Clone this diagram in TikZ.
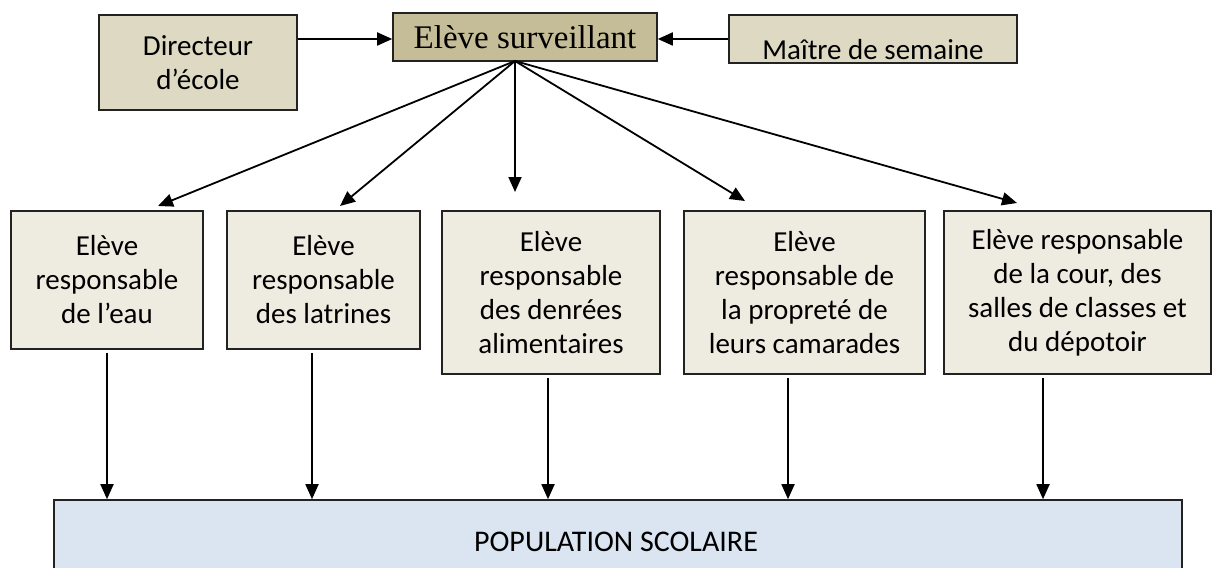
\documentclass[tikz,border=0pt]{standalone}
\usepackage{fontspec}
\setmainfont{Carlito}
\newfontfamily\survfont{Liberation Serif}
\usetikzlibrary{arrows.meta,calc}
\definecolor{tanA}{HTML}{DDD9C3}
\definecolor{tanB}{HTML}{C4BD97}
\definecolor{tanC}{HTML}{EEECE1}
\definecolor{blueA}{HTML}{DBE5F1}
\definecolor{edge}{HTML}{222222}
\tikzset{
  box/.style={draw=edge, line width=0.8pt, inner sep=0pt, align=center,
    font=\fontsize{14.5pt}{17pt}\selectfont},
  arr/.style={line width=0.9pt, -{Triangle[length=7.5pt,width=6.5pt]}},
}
\begin{document}
\begin{tikzpicture}[x=0.5pt,y=-0.5pt]
\useasboundingbox (0,0) rectangle (1213,567);
% top row
\node[box, fill=tanA, minimum width=99pt, minimum height=47.5pt] (dir) at (198,62.5) {Directeur\\d’école};
\node[box, fill=tanB, minimum width=132pt, minimum height=24pt, font=\survfont\fontsize{16.5pt}{18pt}\selectfont] (surv) at (525,37) {Elève surveillant};
\node[box, fill=tanA, minimum width=144pt, minimum height=24pt] (mait) at (873,39) {\raisebox{-5pt}[\height][0pt]{Maître de semaine}};
\draw[arr] (dir.east |- 0,39) -- (surv.west |- 0,39);
\draw[arr] (mait.west) -- (mait.west -| surv.east);
% second row
\node[box, fill=tanC, minimum width=96pt, minimum height=69pt] (b1) at (107,280) {Elève\\responsable\\de l’eau};
\node[box, fill=tanC, minimum width=96.5pt, minimum height=69pt] (b2) at (323.5,280) {Elève\\responsable\\des latrines};
\node[box, fill=tanC, minimum width=109pt, minimum height=81.5pt] (b3) at (551,292.5) {Elève\\responsable\\des denrées\\alimentaires};
\node[box, fill=tanC, minimum width=120.5pt, minimum height=81.5pt] (b4) at (804.5,292.5) {Elève\\responsable de\\la propreté de\\leurs camarades};
\node[box, fill=tanC, minimum width=133.5pt, minimum height=81.5pt] (b5) at (1077.5,292.5) {Elève responsable\\de la cour, des\\salles de classes et\\du dépotoir};
% bottom
\node[box, fill=blueA, minimum width=564pt, minimum height=45pt] (pop) at (618,545) {};
\node[font=\fontsize{15pt}{17pt}\selectfont] (poptxt) at (616,542) {POPULATION SCOLAIRE};
% fan
\coordinate (fan) at (515,61);
\coordinate (t1) at (158,206);
\coordinate (t2) at (340,206);
\coordinate (t3) at (515,192);
\coordinate (t4) at (745,201);
\coordinate (t5) at (1017,203);
\foreach \t in {t1,t2,t3,t4,t5} \draw[arr] (fan) -- (\t);
% down arrows
\foreach \b/\dx in {b1/0,b2/-11.5,b3/-3,b4/-16.5,b5/-34.5}{
  \coordinate (s\b) at ($(\b.south)+(\dx,3)$);
  \draw[arr] (s\b) -- (s\b |- pop.north);
}
\end{tikzpicture}
\end{document}
